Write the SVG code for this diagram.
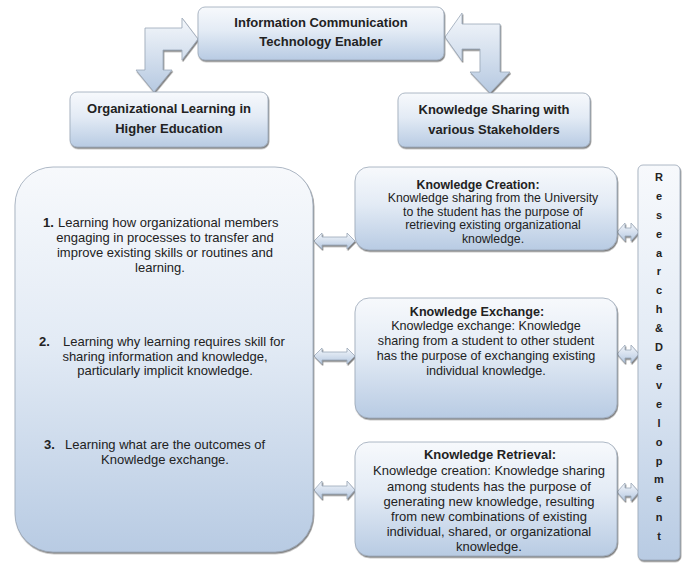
<svg xmlns="http://www.w3.org/2000/svg" width="684" height="566" viewBox="0 0 684 566">
<defs>
<linearGradient id="gBox" x1="0" y1="0" x2="0" y2="1">
<stop offset="0" stop-color="#f7f9fc"/>
<stop offset="0.45" stop-color="#e3ebf5"/>
<stop offset="1" stop-color="#b8cbe3"/>
</linearGradient>
<linearGradient id="gArrow" x1="0" y1="0" x2="0" y2="1">
<stop offset="0" stop-color="#f4f7fb"/>
<stop offset="1" stop-color="#b6c9e1"/>
</linearGradient>
<filter id="sh" x="-5%" y="-5%" width="110%" height="115%">
<feDropShadow dx="0.8" dy="1.5" stdDeviation="0.7" flood-color="#444" flood-opacity="0.7"/>
</filter>
</defs>
<style>
.box{fill:url(#gBox);stroke:#9aa7b8;stroke-width:0.8;filter:url(#sh)}
.arr{fill:url(#gArrow);stroke:#9aa7b8;stroke-width:0.8;filter:url(#sh)}
.hd{font-family:"Liberation Sans",Arial,sans-serif;font-weight:bold;font-size:13px;fill:#222;text-anchor:middle}
.t{font-family:"Liberation Sans",Arial,sans-serif;fill:#222;text-anchor:middle}
.b{font-weight:bold}
.rd{font-family:"Liberation Sans",Arial,sans-serif;font-weight:bold;font-size:11px;fill:#222;text-anchor:middle}
</style>
<rect width="684" height="566" fill="#ffffff"/>

<g id="connectors">
<polygon class="arr" points="154,92 172,70 163,70 163,50 182,50 182,60 198,39 182,18 182,28 145,28 145,70 136,70"/>
<polygon class="arr" points="445,37 462,13 462,24 500,24 500,72 510,72 490,93 470,72 480,72 480,49 462,49 462,61"/>
<polygon class="arr" points="314,241 322,233 322,237 347,237 347,233 355,241 347,249 347,245 322,245 322,249"/>
<polygon class="arr" points="314,356 322,348 322,352 347,352 347,348 355,356 347,364 347,360 322,360 322,364"/>
<polygon class="arr" points="314,490 322,481 322,486 347,486 347,481 355,490 347,499 347,494 322,494 322,499"/>
<polygon class="arr" points="617,232 625,223 625,228 631,228 631,223 639,232 631,241 631,236 625,236 625,241"/>
<polygon class="arr" points="617,354 625,345 625,350 631,350 631,345 639,354 631,363 631,358 625,358 625,363"/>
<polygon class="arr" points="617,492 625,483 625,488 631,488 631,483 639,492 631,501 631,496 625,496 625,501"/>
</g>

<g id="ict">
<rect class="box" x="198" y="7" width="246" height="53" rx="7"/>
<text class="hd" x="321" y="27">Information Communication</text>
<text class="hd" x="321" y="46">Technology Enabler</text>
</g>

<g id="olhe">
<rect class="box" x="70" y="92" width="198" height="55" rx="7"/>
<text class="hd" x="169" y="113">Organizational Learning in</text>
<text class="hd" x="169" y="133">Higher Education</text>
</g>

<g id="kss">
<rect class="box" x="398" y="93" width="192" height="54" rx="7"/>
<text class="hd" x="494" y="114">Knowledge Sharing with</text>
<text class="hd" x="494" y="134">various Stakeholders</text>
</g>

<g id="learning">
<rect class="box" x="15" y="167" width="298" height="385" rx="38"/>
<g class="t" font-size="13">
<text x="43" y="227" text-anchor="start"><tspan class="b">1.</tspan><tspan x="58">Learning how organizational members</tspan></text>
<text x="165" y="242">engaging in processes to transfer and</text>
<text x="165" y="257">improve existing skills or routines and</text>
<text x="160" y="272">learning.</text>
<text x="39" y="346" text-anchor="start"><tspan class="b">2.</tspan><tspan x="63">Learning why learning requires skill for</tspan></text>
<text x="165" y="361">sharing information and knowledge,</text>
<text x="165" y="375">particularly implicit knowledge.</text>
<text x="44" y="449" text-anchor="start"><tspan class="b">3.</tspan><tspan x="65">Learning what are the outcomes of</tspan></text>
<text x="165" y="464">Knowledge exchange.</text>
</g>
</g>

<g id="creation">
<rect class="box" x="355" y="167" width="262" height="83" rx="14"/>
<g class="t" font-size="12.3">
<text class="b" x="478" y="189">Knowledge Creation:</text>
<text x="493" y="202">Knowledge sharing from the University</text>
<text x="493" y="216">to the student has the purpose of</text>
<text x="493" y="229">retrieving existing organizational</text>
<text x="493" y="243">knowledge.</text>
</g>
</g>

<g id="exchange">
<rect class="box" x="355" y="298" width="262" height="120" rx="14"/>
<g class="t" font-size="12.6">
<text class="b" x="477" y="316">Knowledge Exchange:</text>
<text x="486" y="330">Knowledge exchange: Knowledge</text>
<text x="486" y="345">sharing from a student to other student</text>
<text x="486" y="360">has the purpose of exchanging existing</text>
<text x="486" y="375">individual knowledge.</text>
</g>
</g>

<g id="retrieval">
<rect class="box" x="355" y="442" width="262" height="114" rx="14"/>
<g class="t" font-size="13">
<text class="b" x="490" y="459">Knowledge Retrieval:</text>
<text x="489" y="475">Knowledge creation: Knowledge sharing</text>
<text x="489" y="491">among students has the purpose of</text>
<text x="489" y="506">generating new knowledge, resulting</text>
<text x="489" y="521">from new combinations of existing</text>
<text x="489" y="536">individual, shared, or organizational</text>
<text x="489" y="551">knowledge.</text>
</g>
</g>

<g id="rnd">
<rect class="box" x="638" y="165" width="42" height="395" rx="5"/>
<text class="rd" x="659" y="181">R</text>
<text class="rd" x="659" y="200">e</text>
<text class="rd" x="659" y="219">s</text>
<text class="rd" x="659" y="238">e</text>
<text class="rd" x="659" y="257">a</text>
<text class="rd" x="659" y="275">r</text>
<text class="rd" x="659" y="294">c</text>
<text class="rd" x="659" y="313">h</text>
<text class="rd" x="659" y="332">&amp;</text>
<text class="rd" x="659" y="351">D</text>
<text class="rd" x="659" y="370">e</text>
<text class="rd" x="659" y="389">v</text>
<text class="rd" x="659" y="408">e</text>
<text class="rd" x="659" y="427">l</text>
<text class="rd" x="659" y="446">o</text>
<text class="rd" x="659" y="465">p</text>
<text class="rd" x="659" y="483">m</text>
<text class="rd" x="659" y="502">e</text>
<text class="rd" x="659" y="521">n</text>
<text class="rd" x="659" y="540">t</text>
</g>
</svg>
